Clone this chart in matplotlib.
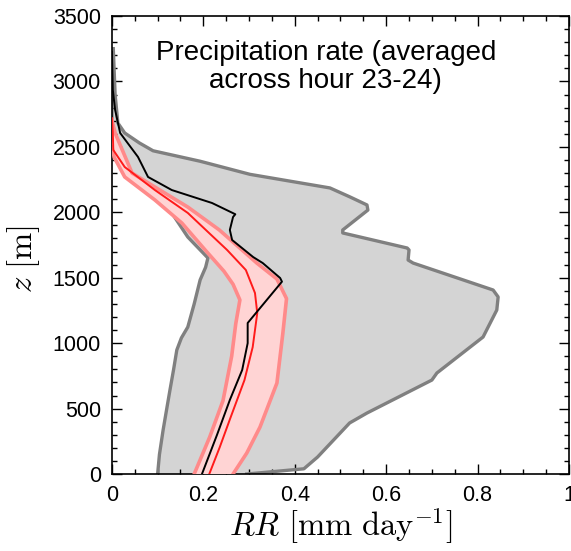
import numpy as np
import matplotlib
matplotlib.use('Agg')
import matplotlib.pyplot as plt
from matplotlib.ticker import MultipleLocator

plt.rcParams['mathtext.fontset'] = 'cm'
plt.rcParams['font.family'] = ['Liberation Sans', 'DejaVu Sans']

#gray envelope, right (max) boundary
gray_max_x = [0.295, 0.42, 0.45, 0.52, 0.558, 0.70, 0.711, 0.812, 0.842, 0.845, 0.834,
              0.659, 0.648, 0.650, 0.646, 0.505, 0.505, 0.560, 0.558, 0.521, 0.477,
              0.302, 0.193, 0.09, 0.06, 0.028, 0.013, 0.007, 0.003]
gray_max_z = [0, 40, 130, 390, 466, 718, 772, 1047, 1253, 1353, 1406,
              1612, 1635, 1712, 1727, 1842, 1865, 2017, 2056, 2117, 2186,
              2290, 2390, 2470, 2530, 2606, 2682, 2900, 3250]

#gray envelope, left (min) boundary
gray_min_x = [0.10, 0.104, 0.112, 0.12, 0.127, 0.135, 0.142, 0.152, 0.166, 0.18,
              0.193, 0.205, 0.21, 0.166, 0.131, 0.094, 0.028, 0.007, 0.0, 0.0]
gray_min_z = [0, 150, 336, 500, 642, 800, 948, 1040, 1123, 1300,
              1483, 1580, 1651, 1811, 1995, 2132, 2323, 2423, 2476, 3250]

#red band, lower edge
red_lo_x = [0.18, 0.214, 0.243, 0.262, 0.271, 0.28, 0.265, 0.245, 0.204, 0.153,
            0.094, 0.028, 0.005, 0.0]
red_lo_z = [0, 283, 560, 900, 1150, 1330, 1450, 1550, 1712, 1918,
            2094, 2270, 2420, 2500]

#red band, upper edge
red_hi_x = [0.265, 0.295, 0.324, 0.361, 0.374, 0.382, 0.361, 0.317, 0.235, 0.166,
            0.094, 0.044, 0.007, 0.0]
red_hi_z = [0, 160, 359, 695, 1077, 1340, 1490, 1612, 1865, 2040,
            2193, 2300, 2606, 2705]

#red mean
red_mean_x = [0.213, 0.236, 0.26, 0.29, 0.308, 0.318, 0.313, 0.293, 0.252, 0.21,
              0.166, 0.094, 0.028, 0.003, 0.002, 0.0]
red_mean_z = [0, 206, 436, 718, 970, 1230, 1383, 1559, 1712, 1850,
              1995, 2170, 2346, 2476, 2600, 2720]

#black line
black_x = [0.197, 0.23, 0.258, 0.285, 0.297, 0.297, 0.372, 0.368, 0.330, 0.309,
           0.263, 0.258, 0.265, 0.27, 0.219, 0.131, 0.079, 0.057, 0.018, 0.007,
           0.002, 0.0]
black_z = [0, 300, 566, 795, 1000, 1154, 1470, 1498, 1612, 1658,
           1788, 1865, 1964, 1985, 2071, 2170, 2270, 2423, 2606, 2782,
           2934, 3225]

title_text = 'Precipitation rate (averaged\nacross hour 23-24)'

fig = plt.figure(figsize=(5.71, 5.51), dpi=100)
ax = fig.add_axes([0.196, 0.1397, 0.8005, 0.8313])

#gray envelope
ax.fill(np.concatenate([gray_max_x, gray_min_x[::-1]]),
        np.concatenate([gray_max_z, gray_min_z[::-1]]),
        color='#d4d4d4', lw=0, zorder=1)
ax.plot(gray_max_x, gray_max_z, color='#808080', lw=2.4, zorder=2)
ax.plot(gray_min_x, gray_min_z, color='#808080', lw=2.4, zorder=2)

#red band
ax.fill(np.concatenate([red_hi_x, red_lo_x[::-1]]),
        np.concatenate([red_hi_z, red_lo_z[::-1]]),
        color='#ffd4d4', lw=0, zorder=3)
ax.plot(red_lo_x, red_lo_z, color='#ff8a8a', lw=2.6, zorder=4)
ax.plot(red_hi_x, red_hi_z, color='#ff8a8a', lw=2.6, zorder=4)
ax.plot(red_mean_x, red_mean_z, color='#ff1a1a', lw=1.4, zorder=5)

#black line
ax.plot(black_x, black_z, color='black', lw=1.4, zorder=6)

ax.set_xlim(0, 1)
ax.set_ylim(0, 3500)

ax.xaxis.set_major_locator(MultipleLocator(0.2))
ax.xaxis.set_minor_locator(MultipleLocator(0.05))
ax.yaxis.set_major_locator(MultipleLocator(500))
ax.yaxis.set_minor_locator(MultipleLocator(100))
ax.xaxis.set_major_formatter(plt.FuncFormatter(lambda v, p: '%g' % round(v, 2)))

ax.tick_params(which='both', direction='in', top=True, right=True, labelsize=15.5)
ax.tick_params(which='major', length=7, width=1)
ax.tick_params(which='minor', length=3.8, width=1)
ax.tick_params(axis='x', pad=8)
ax.tick_params(axis='y', pad=8)

for sp in ax.spines.values():
    sp.set_linewidth(1.2)

ax.set_xlabel(r'$RR\ [\mathrm{mm\ day}^{-1}]$', fontsize=23.5)
ax.set_ylabel(r'$z\ [\mathrm{m}]$', fontsize=23.5)
ax.xaxis.set_label_coords(0.5, -0.068)
ax.yaxis.set_label_coords(-0.153, 0.469)

ax.text(0.468, 0.888, title_text, transform=ax.transAxes, ha='center', va='center',
        fontsize=20, linespacing=1.1, zorder=7)

fig.savefig('out.png', dpi=100)
